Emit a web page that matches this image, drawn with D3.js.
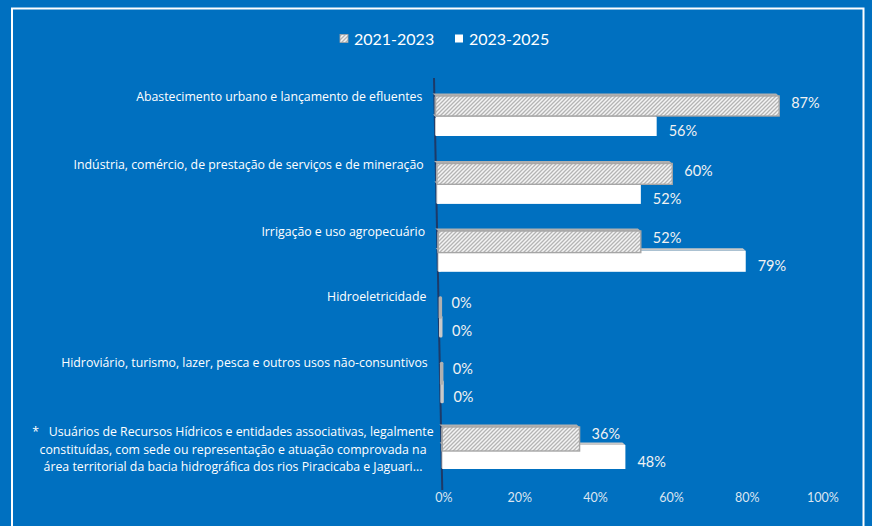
<!DOCTYPE html>
<html>
<head>
<meta charset="utf-8">
<script src="https://cdn.jsdelivr.net/npm/d3@7"></script>
<style>
  html, body { margin: 0; padding: 0; background: #0070c0; }
  svg { display: block; font-family: Lato, "Open Sans", sans-serif; }
  .cat { font-family: "Open Sans", sans-serif; }
</style>
</head>
<body>
<svg id="chart" width="872" height="526"></svg>
<script>
// data
const categories = [
  "Abastecimento urbano e lançamento de efluentes",
  "Indústria, comércio, de prestação de serviços e de mineração",
  "Irrigação e uso agropecuário",
  "Hidroeletricidade",
  "Hidroviário, turismo, lazer, pesca e outros usos não-consuntivos",
  "*   Usuários de Recursos Hídricos e entidades associativas, legalmente|constituídas, com sede ou representação e atuação comprovada na|área territorial da bacia hidrográfica dos rios Piracicaba e Jaguari..."
];
const seriesNames = ["2021-2023", "2023-2025"];
const values2021 = [87, 60, 52, 0, 0, 36];
const values2023 = [56, 52, 79, 0, 0, 48];
const xTicks = [0, 20, 40, 60, 80, 100];

const W = 872, H = 526;
const svg = d3.select("#chart");

// hatch pattern for the first series
const defs = svg.append("defs");
const pat = defs.append("pattern")
    .attr("id", "hatch")
    .attr("patternUnits", "userSpaceOnUse")
    .attr("width", 4).attr("height", 4);
pat.append("rect").attr("width", 4).attr("height", 4).attr("fill", "#f4f4f4");
pat.append("path")
    .attr("d", "M-1,1 l2,-2 M0,4 l4,-4 M3,5 l2,-2")
    .attr("stroke", "#b4b4b4").attr("stroke-width", 1.3);

// white frame
svg.append("rect")
    .attr("x", 12).attr("y", 8.5)
    .attr("width", 851.5).attr("height", 540)
    .attr("fill", "none").attr("stroke", "#ffffff").attr("stroke-width", 2);

// the chart is drawn with a slight perspective: the value axis
// leans to the right and shrinks a bit going down
const leftAt = d3.scaleLinear().domain([78, 501]).range([435, 443.5]);
const rightAt = d3.scaleLinear().domain([106, 501]).range([830.5, 822.5]);
function xAt(y) {
  return d3.scaleLinear().domain([0, 100]).range([leftAt(y), rightAt(y)]);
}

const idx = d3.range(categories.length);
const topY = d3.scaleLinear().domain([0, 2, 5]).range([96, 231, 427]);
const hatchH = d3.scaleLinear().domain([0, 5]).range([20, 24]);
const whiteOff = d3.scaleLinear().domain([0, 5]).range([21, 18]);
const whiteH = d3.scaleLinear().domain([0, 5]).range([19, 24]);

// value axis line
svg.append("line")
    .attr("x1", leftAt(78) - 1).attr("y1", 78)
    .attr("x2", leftAt(490) - 1).attr("y2", 490)
    .attr("stroke", "#1d3a68").attr("stroke-width", 2);

// bars
function drawBar(g, x, y, h, v, fill, stroke, topFill) {
  const x0 = x(0), x1 = x(v);
  // little side face (visible for 0 values)
  g.append("rect")
      .attr("x", x0 - 1).attr("y", y).attr("width", 3.5).attr("height", h)
      .attr("rx", 1.5)
      .attr("fill", topFill);
  if (v > 0) {
    g.append("path")
        .attr("d", `M${x0},${y} L${x1},${y} L${x1 - 3},${y - 2.5} L${x0 - 3},${y - 2.5}Z`)
        .attr("fill", topFill);
    g.append("rect")
        .attr("x", x0).attr("y", y).attr("width", x1 - x0).attr("height", h)
        .attr("fill", fill)
        .attr("stroke", stroke).attr("stroke-width", stroke === "none" ? 0 : 1.4);
  }
}

const gBars = svg.append("g");
idx.forEach(i => {
  const yw = topY(i) + whiteOff(i);
  const hw = whiteH(i);
  drawBar(gBars, xAt(yw + hw / 2), yw, hw, values2023[i], "#ffffff", "none", "#c9c9c9");
});
idx.forEach(i => {
  const yh = topY(i);
  const hh = hatchH(i);
  drawBar(gBars, xAt(yh + hh / 2), yh, hh, values2021[i], "url(#hatch)", "#a6a6a6", "#b0b0b0");
});

// value labels
const gVal = svg.append("g")
    .attr("font-size", 14.5).attr("fill", "#f2f2f2");
idx.forEach(i => {
  const yh = topY(i) + 6.5;
  gVal.append("text")
      .attr("x", xAt(yh)(values2021[i]) + 12).attr("y", yh)
      .attr("dominant-baseline", "central")
      .text(values2021[i] + "%");
  const yw = topY(i) + 34.5;
  gVal.append("text")
      .attr("x", xAt(yw)(values2023[i]) + 12).attr("y", yw)
      .attr("dominant-baseline", "central")
      .text(values2023[i] + "%");
});

// category labels
const gCat = svg.append("g")
    .attr("class", "cat")
    .attr("font-size", 12.3).attr("fill", "#ffffff");
idx.forEach(i => {
  const lines = categories[i].split("|");
  if (lines.length === 1) {
    const y = topY(i) + 0.5;
    gCat.append("text")
        .attr("x", leftAt(y) - 13).attr("y", y)
        .attr("text-anchor", "end")
        .attr("dominant-baseline", "central")
        .text(lines[0]);
  } else {
    const yc = topY(i) + 22;
    lines.forEach((ln, j) => {
      gCat.append("text")
          .attr("x", 233).attr("y", yc + (j - 1) * 17.5)
          .attr("text-anchor", "middle")
          .attr("dominant-baseline", "central")
          .style("white-space", "pre")
          .text(ln);
    });
  }
});

// bottom axis
const xBottom = xAt(501);
const axis = svg.append("g")
    .attr("transform", "translate(0,493)")
    .call(d3.axisBottom(xBottom).tickValues(xTicks).tickSize(0).tickPadding(0)
      .tickFormat(d => d + "%"));
axis.select(".domain").remove();
axis.selectAll("text")
    .attr("font-family", "Lato, 'Open Sans', sans-serif")
    .attr("font-size", 12.5)
    .attr("fill", "#dbe5f1");

// legend
const legend = svg.append("g").attr("font-size", 16).attr("fill", "#ffffff");
const legX = [340, 455];
seriesNames.forEach((name, i) => {
  legend.append("rect")
      .attr("x", legX[i]).attr("y", 34.5).attr("width", 8).attr("height", 8)
      .attr("fill", i === 0 ? "url(#hatch)" : "#ffffff")
      .attr("stroke", i === 0 ? "#a6a6a6" : "none").attr("stroke-width", 0.8);
  legend.append("text")
      .attr("x", legX[i] + 14).attr("y", 38.5)
      .attr("dominant-baseline", "central")
      .text(name);
});
</script>
</body>
</html>
